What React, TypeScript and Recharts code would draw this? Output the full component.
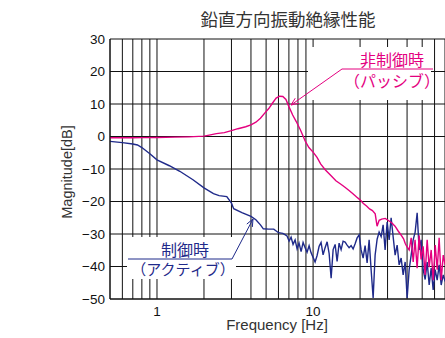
import React from 'react';
import { LineChart, Line, XAxis, YAxis, CartesianGrid } from 'recharts';

const TITLE = '鉛直方向振動絶縁性能';
const PASSIVE_LABEL = ['非制御時', '（パッシブ）'];
const ACTIVE_LABEL = ['制御時', '（アクティブ）'];

const gridFreqs = [0.6, 0.7, 0.8, 0.9, 1, 2, 3, 4, 5, 6, 7, 8, 9, 10, 20, 30, 40, 50, 60, 70];
const xLabelTicks = [1, 10];
const yTicks = [-50, -40, -30, -20, -10, 0, 10, 20, 30];

const passiveFreq = [
  0.5, 0.6, 0.7, 0.8, 1.0, 1.3, 1.6, 2.0, 2.2, 2.4, 2.7, 3.0, 3.3, 3.7, 4.0, 4.3, 4.6, 4.9, 5.2, 5.5,
  5.8, 6.1, 6.4, 6.7, 7.0, 7.4, 7.8, 8.3, 8.9, 9.4, 10.0, 10.6, 11.2, 12.0, 13.0, 14.0, 15.0, 16.0,
  17.0, 18.0, 19.0, 20.0, 21.0, 22.0, 23.0, 24.0, 25.0, 25.7, 26.5, 27.5, 29.0, 30.7, 32.0, 33.5,
  35.0, 36.6, 38.0, 39.0, 40.0, 41.25, 42.5, 43.8, 45.0, 46.4, 47.8, 49.2, 50.7, 52.2, 53.8, 55.4,
  57.1, 58.8, 60.6, 62.4, 64.2, 66.2, 68.2, 70.2,
];
const passiveMag = [
  -0.4, -0.4, -0.4, -0.35, -0.3, -0.2, -0.1, 0.1, 0.5, 0.9, 1.2, 1.8, 2.4, 3.0, 3.6, 4.4, 5.6, 7.2, 8.6, 10.3,
  11.8, 12.4, 12.3, 11.4, 9.2, 6.6, 4.6, 2.0, -1.4, -3.4, -4.8, -6.4, -8.5, -10.3, -12.0, -13.6, -14.6, -15.6,
  -16.6, -17.6, -18.6, -19.5, -20.6, -21.4, -22.3, -22.8, -23.8, -27.6, -25.8, -25.4, -25.2, -26.0, -26.6, -27.6,
  -29.0, -30.3, -31.5, -33.0, -34.0, -34.9, -31.2, -38.6, -31.8, -40.5, -30.4, -37.8, -33.8, -42.6, -31.8, -40.2,
  -34.9, -44.2, -33.4, -41.0, -31.2, -44.2, -36.5, -39.5,
];

const activeFreq = [
  0.5, 0.6, 0.7, 0.75, 0.8, 0.9, 1.0, 1.2, 1.4, 1.7, 2.0, 2.3, 2.5, 2.8, 3.0, 3.1, 3.5, 4.0, 4.3, 4.6,
  4.8, 5.2, 5.6, 6.0, 6.4, 6.6,
  6.81, 7.02, 7.23, 7.44, 7.67, 7.9, 8.13, 8.38, 8.63, 8.89, 9.15, 9.43, 9.71, 10.0, 10.3, 10.61, 10.93,
  11.25, 11.59, 11.94, 12.3, 12.67, 13.05, 13.44, 13.84, 14.25, 14.68, 15.12, 15.57, 16.04, 16.52, 17.01,
  17.52, 18.05, 18.59, 19.15, 19.72, 20.31, 20.92, 21.54, 22.19, 22.86, 23.54, 24.25, 24.97, 25.72, 26.49,
  27.29, 28.1, 28.94, 29.81, 30.71, 31.62, 32.57, 33.55, 34.55, 35.59, 36.66, 37.76, 38.89, 40.05, 41.25,
  42.49, 43.76, 45.07, 46.42, 47.81, 49.24, 50.72, 52.24, 53.81, 55.42, 57.08, 58.79, 60.56, 62.37, 64.24,
  66.17, 68.15, 70.19,
];
const activeMag = [
  -1.5, -1.9, -2.3, -2.6, -3.4, -5.3, -7.2, -9.0, -10.7, -13.3, -15.8, -17.6, -18.2, -18.5, -20.5, -22.2, -23.4, -24.6, -25.6, -27.2,
  -28.4, -28.5, -28.5, -29.6, -29.8, -30.2,
  -30.6, -32.2, -31.0, -33.2, -31.8, -34.6, -32.8, -35.4, -32.6, -34.2, -35.6, -33.6, -35.8, -37.2, -38.6, -36.6, -33.8,
  -32.6, -36.4, -34.2, -32.4, -36.0, -43.6, -34.8, -33.2, -38.4, -32.8, -34.8, -32.2, -32.5, -33.4, -34.2,
  -33.6, -34.6, -33.0, -31.2, -30.3, -34.9, -37.4, -33.6, -38.9, -31.8, -41.0, -49.7, -36.5, -31.6, -29.4,
  -30.8, -27.2, -34.9, -26.3, -31.8, -25.0, -30.8, -36.5, -33.4, -39.5, -37.4, -42.6, -38.6, -49.7, -41.0,
  -36.5, -31.8, -29.4, -23.5, -34.9, -31.8, -41.0, -44.0, -38.6, -45.7, -40.5, -47.2, -41.0, -44.2, -39.5,
  -45.7, -42.6, -44.6,
];

const PINK = '#e4007f';
const BLUE = '#1f2a8a';
const LATIN = '"Liberation Sans", Arial, Helvetica, sans-serif';
const CJK = '"Noto Sans CJK JP", "Noto Sans CJK SC", sans-serif';

const passiveData = passiveFreq.map((f, i) => ({ f, v: passiveMag[i] }));
const activeData = activeFreq.map((f, i) => ({ f, v: activeMag[i] }));

const fmtY = (v: number) => (v < 0 ? '\u2212' + Math.abs(v) : String(v));
const fmtX = (v: number) => (xLabelTicks.includes(v) ? String(v) : '');

function Pointer({ x1, y1, x2, y2, color }: { x1: number; y1: number; x2: number; y2: number; color: string }) {
  const ang = Math.atan2(y2 - y1, x2 - x1);
  const len = 8;
  const spread = 0.4;
  const a1 = ang + Math.PI - spread;
  const a2 = ang + Math.PI + spread;
  return (
    <g stroke={color} strokeWidth={1} fill="none">
      <line x1={x1} y1={y1} x2={x2} y2={y2} />
      <polyline
        points={`${x2 + len * Math.cos(a1)},${y2 + len * Math.sin(a1)} ${x2},${y2} ${x2 + len * Math.cos(a2)},${y2 + len * Math.sin(a2)}`}
      />
    </g>
  );
}

export default function App() {
  return (
    <div style={{ position: 'absolute', left: 0, top: 0, width: 445, height: 338, background: '#fff' }}>
      <LineChart width={445} height={338} margin={{ top: 39, right: 0, left: 70, bottom: 9 }}>
        <CartesianGrid stroke="#111" strokeWidth={1} />
        <XAxis
          dataKey="f"
          type="number"
          scale="log"
          domain={[0.5, 70]}
          allowDataOverflow
          ticks={gridFreqs}
          interval={0}
          tickFormatter={fmtX}
          tickLine={false}
          tickSize={0}
          tickMargin={7}
          height={30}
          axisLine={{ stroke: '#111' }}
          tick={{ fontSize: 13.5, fill: '#111', fontFamily: LATIN }}
        />
        <YAxis
          type="number"
          domain={[-50, 30]}
          ticks={yTicks}
          interval={0}
          tickFormatter={fmtY}
          allowDataOverflow
          width={40}
          tickLine={false}
          tickSize={0}
          tickMargin={5}
          axisLine={{ stroke: '#111' }}
          tick={{ fontSize: 13.5, fill: '#111', fontFamily: LATIN }}
        />
        <Line data={activeData} dataKey="v" stroke={BLUE} strokeWidth={1.4} dot={false} isAnimationActive={false} type="linear" />
        <Line data={passiveData} dataKey="v" stroke={PINK} strokeWidth={1.4} dot={false} isAnimationActive={false} type="linear" />
      </LineChart>
      <svg width={445} height={338} style={{ position: 'absolute', left: 0, top: 0, pointerEvents: 'none' }}>
        <text x={288} y={26} textAnchor="middle" fontSize={17.5} fill="#333" fontFamily={CJK}>{TITLE}</text>
        <text transform="translate(72,172) rotate(-90)" textAnchor="middle" fontSize={14.5} fill="#333" fontFamily={LATIN}>Magnitude[dB]</text>
        <text x={277} y={330} textAnchor="middle" fontSize={15} fill="#333" fontFamily={LATIN}>Frequency [Hz]</text>

        <rect x={308} y={47} width={123} height={53} fill="#fff" />
        <text x={392} y={66} textAnchor="middle" fontSize={16} fill={PINK} fontFamily={CJK}>{PASSIVE_LABEL[0]}</text>
        <text x={392} y={86.5} textAnchor="middle" fontSize={16} fill={PINK} fontFamily={CJK}>{PASSIVE_LABEL[1]}</text>
        <line x1={342} y1={69} x2={433} y2={69} stroke={PINK} strokeWidth={1} />
        <Pointer x1={342} y1={69} x2={291} y2={105} color={PINK} />

        <rect x={127} y={237} width={109} height={42} fill="#fff" />
        <text x={185} y={256} textAnchor="middle" fontSize={16} fill={BLUE} fontFamily={CJK}>{ACTIVE_LABEL[0]}</text>
        <text x={183} y={275} textAnchor="middle" fontSize={15} fill={BLUE} fontFamily={CJK}>{ACTIVE_LABEL[1]}</text>
        <line x1={128} y1={259} x2={232} y2={259} stroke={BLUE} strokeWidth={1} />
        <Pointer x1={232} y1={259} x2={253} y2={219} color={BLUE} />
      </svg>
    </div>
  );
}
